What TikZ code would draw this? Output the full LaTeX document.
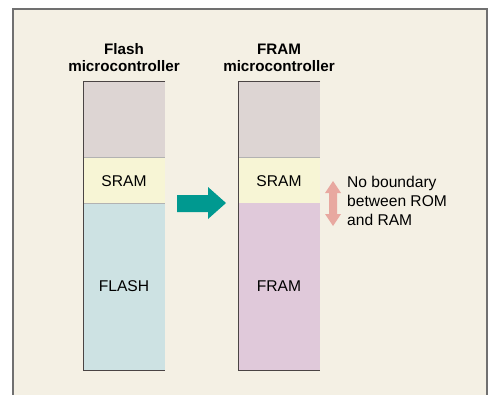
\documentclass[tikz,border=0pt]{standalone}
\usepackage{fontspec}
\setmainfont{Liberation Sans}
\usetikzlibrary{arrows.meta,shapes.arrows}
\definecolor{bgc}{HTML}{F4F0E4}
\definecolor{framec}{HTML}{707070}
\definecolor{topc}{HTML}{DDD5D3}
\definecolor{sramc}{HTML}{F7F5D5}
\definecolor{flashc}{HTML}{CDE2E3}
\definecolor{framc}{HTML}{E0C9DA}
\definecolor{tealc}{HTML}{009990}
\definecolor{pinkc}{HTML}{E8A8A0}
\definecolor{edgec}{HTML}{4A4444}
\tikzset{
  lbl/.style={font=\fontsize{15.6}{18}\selectfont, text=black, inner sep=0pt},
  ttl/.style={font=\fontsize{15.2}{17}\selectfont\bfseries, align=center, inner sep=0pt},
  note/.style={font=\fontsize{15.6}{19}\selectfont, align=left, inner sep=0pt, anchor=north west},
}
\begin{document}
\begin{tikzpicture}[x=1pt,y=-1pt]
\useasboundingbox (0,0) rectangle (492,394);
\fill[white] (0,0) rectangle (492,394);
\fill[bgc] (13,9) rectangle (487,400);
\draw[framec, line width=1.2pt] (13,400) -- (13,9) -- (487,9) -- (487,400);
% left column
\fill[topc] (83,81) rectangle (165,157);
\fill[sramc] (83,157) rectangle (165,203);
\fill[flashc] (83,203) rectangle (165,370);
\draw[gray!60, line width=0.5pt] (83,157) -- (165,157) (83,203) -- (165,203);
\draw[edgec, line width=0.8pt] (165,81) -- (83,81) -- (83,370) -- (165,370);
% right column
\fill[topc] (238,81) rectangle (320,157);
\fill[sramc] (238,157) rectangle (320,203);
\fill[framc] (238,203) rectangle (320,370);
\draw[gray!60, line width=0.5pt] (238,157) -- (320,157);
\draw[edgec, line width=0.8pt] (320,81) -- (238,81) -- (238,370) -- (320,370);
% titles
\node[ttl] (t1) at (124,58) {Flash\\microcontroller};
\node[ttl] (t2) at (279,58) {FRAM\\microcontroller};
% labels
\node[lbl] (s1) at (124,181) {SRAM};
\node[lbl] (f1) at (124,286) {FLASH};
\node[lbl] (s2) at (279,181) {SRAM};
\node[lbl] (f2) at (279,286) {FRAM};
% teal arrow
\fill[tealc] (177,195) -- (208,195) -- (208,187) -- (226,203) -- (208,219) -- (208,212) -- (177,212) -- cycle;
% pink double arrow
\fill[pinkc] (333,181) -- (341,193) -- (337,193) -- (337,214) -- (341,214) -- (333,226) -- (325,214) -- (329,214) -- (329,193) -- (325,193) -- cycle;
\node[note] (n) at (347,176) {No boundary\\between ROM\\and RAM};
\end{tikzpicture}
\end{document}
